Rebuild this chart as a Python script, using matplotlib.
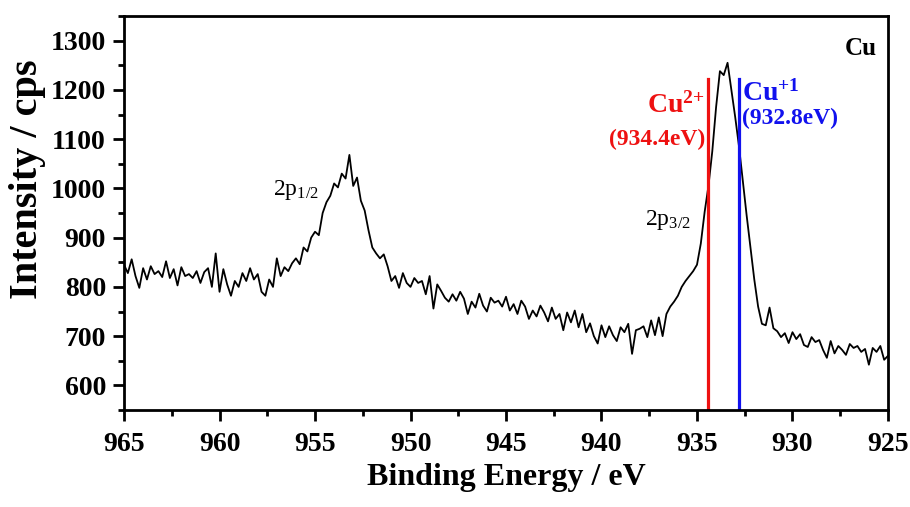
import numpy as np
import matplotlib.pyplot as plt
from matplotlib.ticker import MultipleLocator

plt.rcParams['font.family'] = 'Liberation Serif'
plt.rcParams['mathtext.fontset'] = 'custom'
plt.rcParams['mathtext.rm'] = 'Liberation Serif'
plt.rcParams['mathtext.bf'] = 'Liberation Serif:bold'
plt.rcParams['mathtext.default'] = 'regular'

#%% data, 0.2 eV steps from 965 to 925 eV
energy = np.round(np.arange(965.0, 924.9, -0.2), 1)
intensity = [
    845, 828, 856, 822, 798, 838, 815, 842, 826, 832,
    820, 852, 818, 836, 803, 840, 822, 826, 818, 832,
    808, 830, 838, 800, 868, 790, 836, 805, 782, 812,
    800, 828, 812, 838, 815, 826, 790, 782, 815, 800,
    858, 822, 840, 832, 848, 858, 846, 880, 872, 900,
    912, 905, 950, 972, 985, 1010, 1002, 1030, 1020, 1068,
    1005, 1022, 975, 955, 915, 880, 868, 858, 866, 842,
    812, 822, 798, 828, 808, 800, 818, 808, 812, 785,
    822, 756, 805, 792, 778, 770, 785, 772, 790, 776,
    745, 770, 758, 786, 762, 750, 778, 768, 772, 760,
    780, 752, 765, 745, 772, 760, 735, 752, 740, 762,
    748, 730, 758, 735, 745, 712, 748, 728, 752, 718,
    745, 708, 726, 700, 685, 722, 698, 720, 702, 690,
    718, 708, 725, 664, 712, 715, 720, 698, 732, 702,
    738, 700, 745, 760, 770, 782, 800, 812, 822, 832,
    845, 888, 952, 1005, 1075, 1165, 1238, 1230, 1255, 1200,
    1145, 1085, 1015, 945, 880, 815, 760, 725, 722, 758,
    716, 710, 698, 706, 686, 708, 694, 704, 682, 678,
    698, 688, 692, 672, 656, 690, 665, 680, 672, 662,
    684, 676, 680, 668, 674, 642, 676, 668, 680, 652,
    660,
]
cu2_pos = 934.4
cu1_pos = 932.8
line_top = 1222

#%%
fig = plt.figure(figsize=(9.1, 5.07), dpi=100)
ax = fig.add_axes([0.1363, 0.1913, 0.8395, 0.7771])

ax.plot(energy, intensity, color='black', lw=1.3)
ax.plot([cu2_pos, cu2_pos], [550, line_top], color='#ee1111', lw=2.3)
ax.plot([cu1_pos, cu1_pos], [550, line_top], color='#1111ee', lw=2.3)

ax.text(934.6, 1168, r'$\mathbf{Cu^{2{+}}}$', color='#ee1111', fontsize=20,
        ha='right', va='center')
ax.text(934.55, 1100, '(934.4eV)', color='#ee1111', fontsize=17,
        fontweight='bold', ha='right', va='center')
ax.text(932.65, 1193, r'$\mathbf{Cu^{{+}1}}$', color='#1111ee', fontsize=20,
        ha='left', va='center')
ax.text(932.65, 1142, '(932.8eV)', color='#1111ee', fontsize=17,
        fontweight='bold', ha='left', va='center')
ax.text(925.6, 1284, 'Cu', fontsize=18, fontweight='bold', ha='right', va='center')
ax.text(957.2, 996, r'2p$_{1/2}$', fontsize=17, ha='left', va='center')
ax.text(937.7, 936, r'2p$_{3/2}$', fontsize=17, ha='left', va='center')

ax.set_xlim(965, 925)
ax.set_ylim(550, 1350)
ax.xaxis.set_major_locator(MultipleLocator(5))
ax.xaxis.set_minor_locator(MultipleLocator(2.5))
ax.yaxis.set_minor_locator(MultipleLocator(50))
ax.set_yticks([600, 700, 800, 900, 1000, 1100, 1200, 1300])

for s in ax.spines.values():
    s.set_linewidth(2)
ax.tick_params(which='major', direction='out', length=8, width=2,
               labelsize=20, pad=5)
ax.tick_params(which='minor', direction='out', length=4, width=2)
ax.tick_params(axis='x', which='major', pad=8)
for lab in ax.get_xticklabels() + ax.get_yticklabels():
    lab.set_fontweight('bold')

ax.set_xlabel('Binding Energy / eV', fontsize=23, fontweight='bold', labelpad=4)
ax.set_ylabel('Intensity / cps', fontsize=29, fontweight='bold')
ax.yaxis.set_label_coords(-0.102, 0.586)

fig.savefig('out.png', dpi=100)
